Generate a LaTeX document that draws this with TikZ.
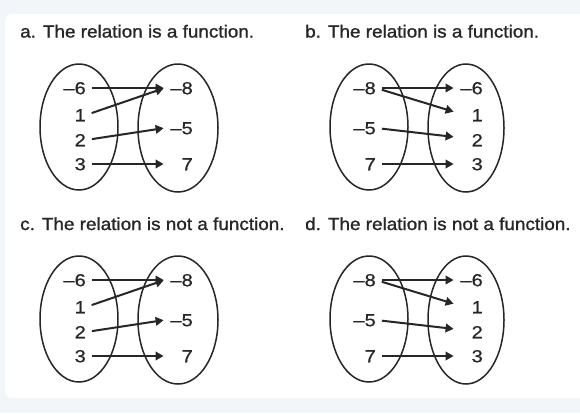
\documentclass[tikz,border=0pt]{standalone}
\usepackage{fontspec}
\setmainfont[FakeStretch=1.08]{Liberation Sans}
\newfontfamily\titlefont[FakeStretch=1.08,FakeBold=1.2]{Liberation Sans}
\newfontfamily\numfont[FakeStretch=1.15,FakeBold=0.5,Ligatures=TeX]{Liberation Sans}
\usepackage{tikz}
\usetikzlibrary{arrows.meta}
\usetikzlibrary{positioning}
\usepackage{xcolor}
\definecolor{pagebg}{HTML}{F2F6FA}
\definecolor{ink}{HTML}{262626}

\tikzset{
	lnum/.style={anchor=east, inner sep=0pt, text width=30pt, align=right,
		text height=12.5pt, text depth=0pt, text=ink,
		font=\fontsize{17.5}{17.5}\numfont},
	rnum/.style={anchor=east, inner sep=0pt, text width=28pt, align=right,
		text height=12.5pt, text depth=0pt, text=ink,
		font=\fontsize{17.5}{17.5}\numfont},
	settitle/.style={anchor=base west, inner sep=0pt, font=\titlefont\fontsize{17.5}{17.5}\selectfont, text=ink},
	setline/.style={draw=ink, line width=1.5pt},
	maparrow/.style={draw=ink, line width=2pt, -{Triangle[length=8pt,width=8.5pt]},
		shorten <=6pt, shorten >=1pt}
}

\begin{document}
\begin{tikzpicture}[x=1pt, y=-1pt]
			\useasboundingbox (0,0) rectangle (580,413);
			\clip (0,0) rectangle (580,413);
			\fill[pagebg] (0,0) rectangle (580,413);
			\fill[white, rounded corners=7pt] (5,14) rectangle (600,398);
			
			% a
			\begin{scope}
				\node[settitle] (ta) at (20,37.5) {a. The relation is a function.};
				\draw[setline] (79,127) ellipse [x radius=39, y radius=63];
				\draw[setline] (178,128) ellipse [x radius=40, y radius=64];
				\node[lnum] (aL1) at (86,88) {–6};
				\node[lnum] (aL2) at (86,115) {1};
				\node[lnum] (aL3) at (86,140) {2};
				\node[lnum] (aL4) at (86,164) {3};
				\node[rnum] (aR1) at (193,88) {–8};
				\node[rnum] (aR2) at (193,128) {–5};
				\node[rnum] (aR3) at (193,164) {7};
				\draw[maparrow] (aL1.east) -- (aR1.west);
				\draw[maparrow] (aL2.east) -- (aR1.west);
				\draw[maparrow] (aL3.east) -- (aR2.west);
				\draw[maparrow] (aL4.east) -- (aR3.west);
			\end{scope}
			
			% b
			\begin{scope}[shift={(290,0)}]
				\node[settitle] (tb) at (15,37.5) {b. The relation is a function.};
				\draw[setline] (79,127) ellipse [x radius=39, y radius=63];
				\draw[setline] (176,128) ellipse [x radius=38, y radius=64];
				\node[lnum] (bL1) at (86,88) {–8};
				\node[lnum] (bL2) at (86,128) {–5};
				\node[lnum] (bL3) at (86,164) {7};
				\node[rnum] (bR1) at (193,88) {–6};
				\node[rnum] (bR2) at (193,115) {1};
				\node[rnum] (bR3) at (193,140) {2};
				\node[rnum] (bR4) at (193,164) {3};
				\draw[maparrow] (bL1.east) -- (bR1.west);
				\draw[maparrow] (bL1.east) -- ([yshift=3pt]bR2.west);
				\draw[maparrow] (bL2.east) -- ([yshift=3pt]bR3.west);
				\draw[maparrow] (bL3.east) -- (bR4.west);
			\end{scope}
			
			% c
			\begin{scope}[shift={(0,192)}]
				\node[settitle] (tc) at (20,38) {c. The relation is not a function.};
				\draw[setline] (79,127) ellipse [x radius=39, y radius=63];
				\draw[setline] (178,128) ellipse [x radius=40, y radius=64];
				\node[lnum] (cL1) at (86,88) {–6};
				\node[lnum] (cL2) at (86,115) {1};
				\node[lnum] (cL3) at (86,140) {2};
				\node[lnum] (cL4) at (86,164) {3};
				\node[rnum] (cR1) at (193,88) {–8};
				\node[rnum] (cR2) at (193,128) {–5};
				\node[rnum] (cR3) at (193,164) {7};
				\draw[maparrow] (cL1.east) -- (cR1.west);
				\draw[maparrow] (cL2.east) -- (cR1.west);
				\draw[maparrow] (cL3.east) -- (cR2.west);
				\draw[maparrow] (cL4.east) -- (cR3.west);
			\end{scope}
			
			% d
			\begin{scope}[shift={(290,192)}]
				\node[settitle] (td) at (15,38) {d. The relation is not a function.};
				\draw[setline] (79,127) ellipse [x radius=39, y radius=63];
				\draw[setline] (176,128) ellipse [x radius=38, y radius=64];
				\node[lnum] (dL1) at (86,88) {–8};
				\node[lnum] (dL2) at (86,128) {–5};
				\node[lnum] (dL3) at (86,164) {7};
				\node[rnum] (dR1) at (193,88) {–6};
				\node[rnum] (dR2) at (193,115) {1};
				\node[rnum] (dR3) at (193,140) {2};
				\node[rnum] (dR4) at (193,164) {3};
				\draw[maparrow] (dL1.east) -- (dR1.west);
				\draw[maparrow] (dL1.east) -- ([yshift=3pt]dR2.west);
				\draw[maparrow] (dL2.east) -- ([yshift=3pt]dR3.west);
				\draw[maparrow] (dL3.east) -- (dR4.west);
			\end{scope}
		\end{tikzpicture}
\end{document}
